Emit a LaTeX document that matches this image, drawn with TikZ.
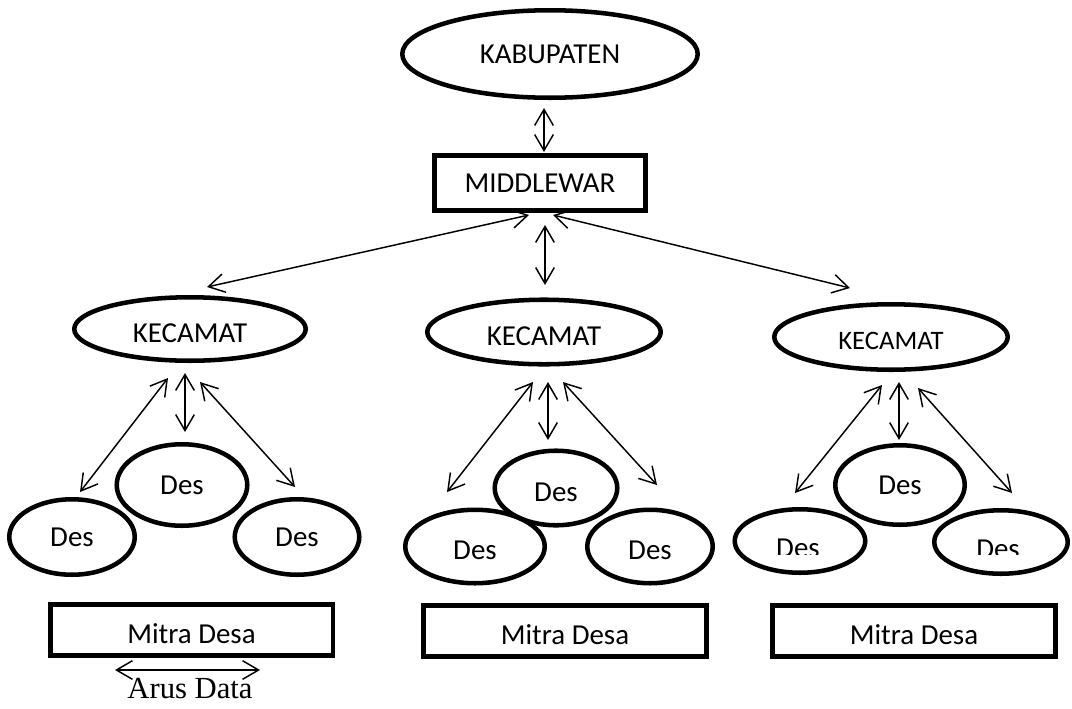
\documentclass[tikz,border=0pt]{standalone}
\usepackage{fontspec}
\setmainfont{Carlito}
\newfontfamily\serifnote{Liberation Serif}
\usetikzlibrary{arrows.meta,shapes.geometric,backgrounds}

\begin{document}
\begin{tikzpicture}[x=0.75pt,y=-0.75pt,>={Straight Barb[length=12pt,width=14pt]},
    font=\fontsize{21.7pt}{26pt}\selectfont,
    oval/.style={ellipse,draw,line width=3.4pt,inner sep=0pt},
    rectbox/.style={rectangle,draw,line width=3.4pt,inner sep=0pt,fill=white},
    flow/.style={<->,line width=1.1pt},
    low/.style={text height=20pt,text depth=0pt}]
    \useasboundingbox (0,0) rectangle (1072,708);

    % Kabupaten and middleware (top)
    \node[oval,minimum width=221.6pt,minimum height=65.6pt] (kab) at (550,54) {KABUPATEN};
    \node[rectbox,minimum width=157.9pt,minimum height=41.6pt] (mid) at (540,183) {MIDDLEWAR};

    % Kecamatan
    \node[oval,low,minimum width=173.6pt,minimum height=47.6pt] (kec1) at (190,329) {KECAMAT};
    \node[oval,low,minimum width=175.1pt,minimum height=48.4pt] (kec2) at (544,332) {KECAMAT};
    \node[oval,font=\fontsize{20pt}{24pt}\selectfont,text height=18.9pt,text depth=0pt,
          minimum width=175.1pt,minimum height=49.1pt] (kec3) at (891,337) {KECAMAT};

    % Desa, left group
    \node[oval,minimum width=97.9pt,minimum height=61.1pt] (des1t) at (182,485) {Des};
    \node[oval,minimum width=94.1pt,minimum height=56.6pt] (des1l) at (72,537) {Des};
    \node[oval,minimum width=93.4pt,minimum height=56.6pt] (des1r) at (297,537) {Des};

    % Desa, middle group
    \node[oval,low,minimum width=91.9pt,minimum height=55.9pt] (des2t) at (556,488) {Des};
    \node[oval,low,minimum width=104.6pt,minimum height=55.1pt] (des2l) at (475,546.5) {Des};
    \node[oval,low,minimum width=94.1pt,minimum height=55.1pt] (des2r) at (650,546.5) {Des};

    % Desa, right group (lower labels cut off)
    \node[oval,minimum width=97.1pt,minimum height=59.6pt] (des3t) at (900,485) {Des};
    \node[oval,minimum width=97.9pt,minimum height=47.6pt] (des3l) at (800,541) {};
    \node[oval,minimum width=100.1pt,minimum height=47.6pt] (des3r) at (1001,542) {};
    \begin{scope}
        \clip (730,500) rectangle (1072,554);
        \node (des3ltext) at (798,548.5) {Des};
        \node (des3rtext) at (998,549.5) {Des};
    \end{scope}

    % Mitra Desa
    \node[rectbox,low,minimum width=211.9pt,minimum height=38.6pt] (m1) at (191.5,630) {Mitra Desa};
    \node[rectbox,low,minimum width=211.9pt,minimum height=38.6pt] (m2) at (565,631) {Mitra Desa};
    \node[rectbox,low,minimum width=211.9pt,minimum height=38.6pt] (m3) at (914,631) {Mitra Desa};

    % Data flows
    \begin{scope}[on background layer]
        \draw[flow] ([shift={(-6,8)}]kab.south) -- ([shift={(4,-1)}]mid.north);
        \draw[flow] ([shift={(-11,2)}]mid.south) -- ([shift={(17,-8)}]kec1.north);
        \draw[flow] ([shift={(5,12)}]mid.south) -- ([shift={(1,-12.5)}]kec2.north);
        \draw[flow] ([shift={(13,2)}]mid.south) -- ([shift={(-41,-14)}]kec3.north);

        \draw[flow] ([shift={(-22,15)}]kec1.south) -- ([shift={(8,-5)}]des1l.north);
        \draw[flow] ([shift={(-5,10)}]kec1.south) -- ([shift={(3,-10)}]des1t.north);
        \draw[flow] ([shift={(10,19)}]kec1.south) -- ([shift={(-2,-10)}]des1r.north);

        \draw[flow] ([shift={(-11,15.5)}]kec2.south) -- ([shift={(-28,-15.5)}]des2l.north);
        \draw[flow] ([shift={(4,15.5)}]kec2.south) -- ([shift={(-8,-8.5)}]des2t.north);
        \draw[flow] ([shift={(19,15.5)}]kec2.south) -- ([shift={(7,-22.5)}]des2r.north);

        \draw[flow] ([shift={(-9,13)}]kec3.south) -- ([shift={(-5,-14)}]des3l.north);
        \draw[flow] ([shift={(8,10)}]kec3.south) -- ([shift={(-1,-3)}]des3t.north);
        \draw[flow] ([shift={(27,16)}]kec3.south) -- ([shift={(11,-15)}]des3r.north);
    \end{scope}

    % Legend
    \draw[flow] ([shift={(-76.5,12)}]m1.south) -- ([shift={(68.5,12)}]m1.south);
    \node[anchor=base,font=\serifnote\fontsize{23pt}{28pt}\selectfont] (arus) at (190,698) {Arus Data};
\end{tikzpicture}
\end{document}
